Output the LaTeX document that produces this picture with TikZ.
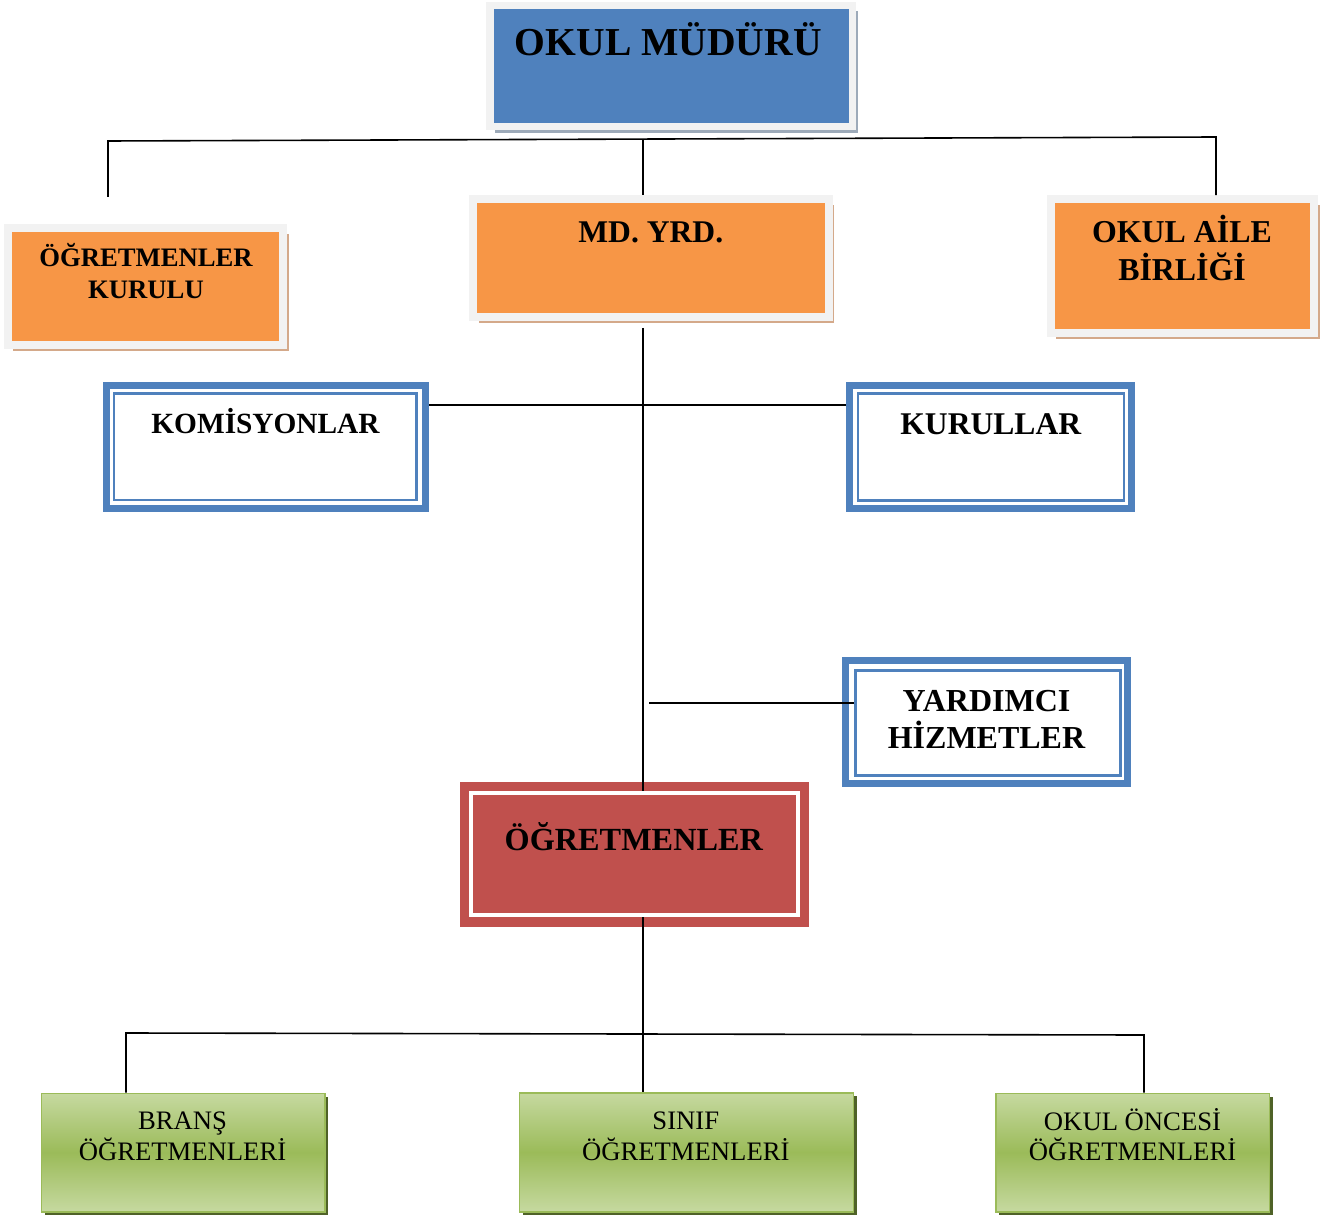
\documentclass[tikz,border=0pt]{standalone}
\usepackage{fontspec}
\setmainfont{Liberation Serif}
\usetikzlibrary{shadows}

\definecolor{framegray}{HTML}{F2F2F2}
\definecolor{mudurblue}{HTML}{4F81BD}
\definecolor{mudurshadow}{HTML}{9DAAB9}
\definecolor{orangefill}{HTML}{F79646}
\definecolor{orangeshadow}{HTML}{D4A98A}
\definecolor{redfill}{HTML}{C0504D}
\definecolor{greenlight}{HTML}{C6D9A0}
\definecolor{greenmid}{HTML}{9BBB59}
\definecolor{greenshadow}{HTML}{4F6228}

\begin{document}
\begin{tikzpicture}[x=0.75pt,y=0.75pt,yscale=-1,xscale=1,
  conn/.style={line width=1.2pt},
  mudurbox/.style={draw=framegray, line width=5.6pt, fill=mudurblue, inner sep=0pt,
    drop shadow={shadow xshift=4pt, shadow yshift=-4.5pt, fill=mudurshadow, opacity=1}},
  orangebox/.style={draw=framegray, line width=6pt, fill=orangefill, inner sep=0pt,
    drop shadow={shadow xshift=4pt, shadow yshift=-4.5pt, fill=orangeshadow, opacity=1}},
  bluebox/.style={draw=mudurblue, line width=5.25pt, fill=white, inner sep=0pt},
  blueline/.style={draw=mudurblue, line width=2pt, inner sep=0pt},
  redbox/.style={fill=redfill, inner sep=0pt},
  redline/.style={draw=white, line width=3pt, fill=redfill, inner sep=0pt},
  greenbox/.style={draw=greenmid, line width=1.2pt, inner sep=0pt,
    top color=greenlight, bottom color=greenlight, middle color=greenmid,
    drop shadow={shadow xshift=2.5pt, shadow yshift=-2.5pt, fill=greenshadow, opacity=1}},
  bigtext/.style={font=\fontsize{29.7}{34}\selectfont\bfseries, inner sep=0pt},
  headtext/.style={font=\fontsize{23.7}{28}\selectfont\bfseries, inner sep=0pt, align=center},
  smalltext/.style={font=\fontsize{20}{23.5}\selectfont\bfseries, inner sep=0pt, align=center},
  plaintext/.style={font=\fontsize{20}{22.9}\selectfont, inner sep=0pt, align=center}
]
\path[use as bounding box] (0,0) rectangle (1336,1216);

% Text Node
\node[mudurbox, minimum width=272pt, minimum height=90.9pt] (mudur) at (671.3,66.1) {};
\node[bigtext, anchor=base] (mudurtxt) at (668.3,55.7) {OKUL MÜDÜRÜ};
% Text Node
\node[orangebox, minimum width=206.6pt, minimum height=88.1pt] (ogrkurulu) at (145.75,286.25) {};
\node[smalltext] (ogrkurulutxt) at (146,271) {ÖĞRETMENLER\\KURULU};
% Text Node
\node[orangebox, minimum width=266.8pt, minimum height=88.3pt] (mdyrd) at (651.2,257.8) {};
\node[headtext, anchor=base] (mdyrdtxt) at (650.8,242.3) {MD. YRD.};
% Text Node
\node[orangebox, minimum width=197.7pt, minimum height=100pt] (aile) at (1182.5,265.85) {};
\node[headtext, font=\fontsize{23.9}{28.3}\selectfont\bfseries] (ailetxt) at (1182,248) {OKUL AİLE\\BİRLİĞİ};
% Text Node
\node[bluebox, minimum width=239.6pt, minimum height=92pt] (komisyon) at (266,447.3) {};
\node[blueline, minimum width=226.7pt, minimum height=80pt] (komisyonin) at (265.2,446.7) {};
\node[headtext, font=\fontsize{22}{26}\selectfont\bfseries, anchor=base] (komisyontxt) at (265.5,433.3) {KOMİSYONLAR};
% Text Node
\node[bluebox, minimum width=211.7pt, minimum height=92.7pt] (kurul) at (990.65,447) {};
\node[blueline, minimum width=199.5pt, minimum height=80pt] (kurulin) at (991,447) {};
\node[headtext, anchor=base] (kurultxt) at (990.8,435) {KURULLAR};
% Text Node
\node[bluebox, minimum width=211.3pt, minimum height=92.25pt] (yardim) at (986.65,722.3) {};
\node[blueline, minimum width=198.5pt, minimum height=78.5pt] (yardimin) at (988,723) {};
\node[headtext, font=\fontsize{24}{27.5}\selectfont\bfseries] (yardimtxt) at (986.5,719.2) {YARDIMCI\\HİZMETLER};
% Text Node
\node[redbox, minimum width=261.75pt, minimum height=108.3pt] (ogretmen) at (634.5,854.5) {};
\node[redline, minimum width=245pt, minimum height=91.6pt] (ogretmenin) at (634.5,854.4) {};
\node[headtext, font=\fontsize{24.2}{28}\selectfont\bfseries, anchor=base] (ogretmentxt) at (633.8,850) {ÖĞRETMENLER};
% Text Node
\node[greenbox, minimum width=212.5pt, minimum height=88.8pt] (brans) at (183.35,1152.5) {};
\node[plaintext] (branstxt) at (182.5,1136.5) {BRANŞ\\ÖĞRETMENLERİ};
% Text Node
\node[greenbox, minimum width=250.5pt, minimum height=89.25pt] (sinif) at (686.3,1152.2) {};
\node[plaintext] (siniftxt) at (685.8,1136.5) {SINIF\\ÖĞRETMENLERİ};
% Text Node
\node[greenbox, minimum width=205pt, minimum height=88.8pt] (oncesi) at (1132.65,1152.5) {};
\node[plaintext] (oncesitxt) at (1132.5,1134.8) {OKUL ÖNCESİ\\ÖĞRETMENLERİ};

% Connection
\coordinate (topL) at (108,141);
\coordinate (topM) at (643,139);
\coordinate (topR) at (1216,137);
\coordinate (kurulustub) at (108,197);
\draw[conn] (kurulustub) -- (topL) -- (topR) -- (topR |- aile.north);
\draw[conn] (topM) -- (topM |- mdyrd.north);
% Connection
\coordinate (spine) at (643,328);
\draw[conn] (spine) -- (spine |- ogretmenin.north);
\coordinate (midbus) at (643,405);
\draw[conn] (komisyon.east |- midbus) -- (kurul.west |- midbus);
\coordinate (yardimstub) at (649,703);
\draw[conn] (yardimstub) -- (yardimin.west |- yardimstub);
% Connection
\coordinate (botL) at (126,1033);
\coordinate (botR) at (1144,1035);
\draw[conn] (spine |- ogretmenin.south) -- (spine |- sinif.north);
\draw[conn] (botL |- brans.north) -- (botL) -- (botR) -- (botR |- oncesi.north);

\end{tikzpicture}
\end{document}
